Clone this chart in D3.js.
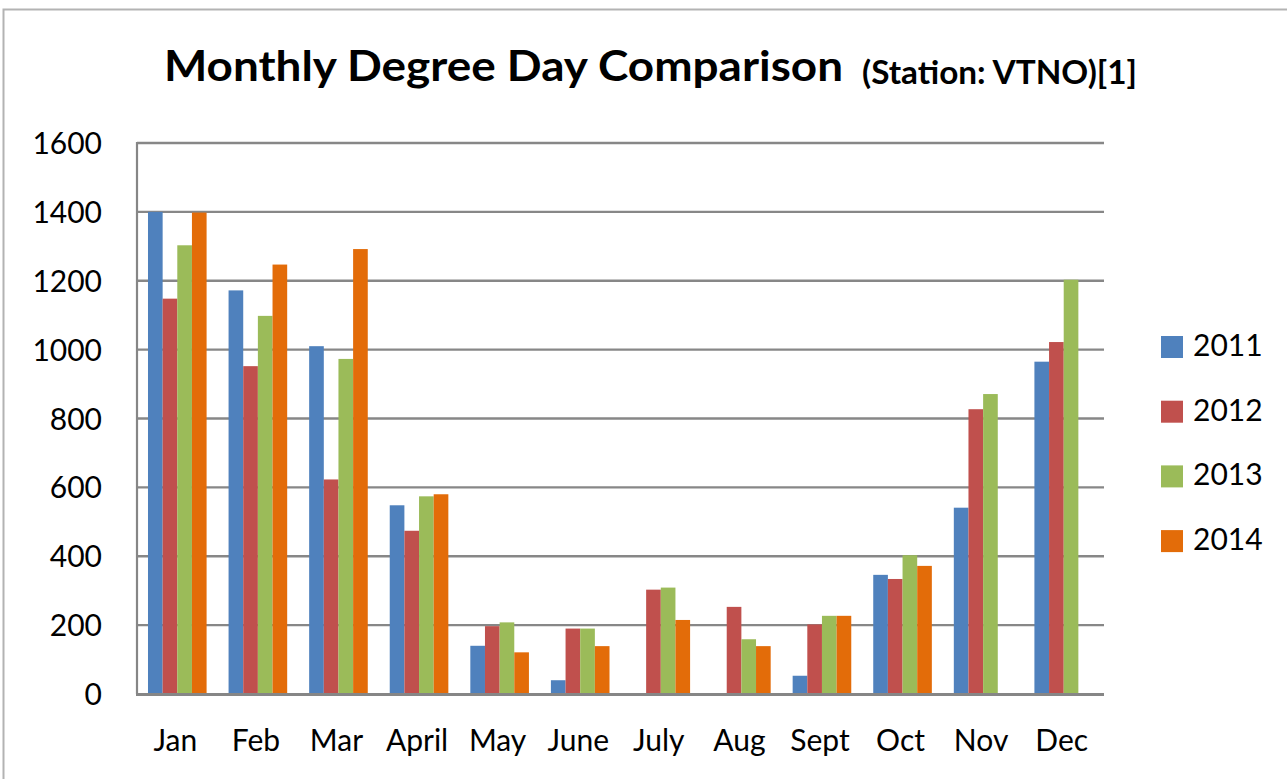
<!DOCTYPE html>
<html>
<head>
<meta charset="utf-8">
<script src="https://cdn.jsdelivr.net/npm/d3@7"></script>
<style>
  html, body { margin: 0; padding: 0; background: #fff; }
  svg { display: block; }
</style>
</head>
<body>
<svg id="chart" width="1287" height="779"></svg>
<script>
const categories = ["Jan", "Feb", "Mar", "April", "May", "June", "July", "Aug", "Sept", "Oct", "Nov", "Dec"];
const seriesNames = ["2011", "2012", "2013", "2014"];
const values2011 = [1400, 1172, 1010, 548, 140, 40, null, null, 53, 346, 541, 965];
const values2012 = [1148, 952, 623, 474, 197, 190, 303, 253, 202, 334, 827, 1022];
const values2013 = [1303, 1098, 973, 574, 208, 190, 309, 159, 227, 403, 871, 1203];
const values2014 = [1398, 1247, 1292, 580, 121, 139, 215, 139, 227, 372, null, null];
const yTicks = [0, 200, 400, 600, 800, 1000, 1200, 1400, 1600];
const colors = ["#4F81BD", "#C0504D", "#9BBB59", "#E36C09"];
const titleMain = "Monthly Degree Day Comparison";
const titleSub = "(Station: VTNO)[1]";

const seriesValues = [values2011, values2012, values2013, values2014];

const svg = d3.select("#chart");
const font = "Lato, 'Open Sans', sans-serif";

// outer chart border
svg.append("rect")
  .attr("x", 3.5).attr("y", 9.5)
  .attr("width", 1400).attr("height", 900)
  .attr("fill", "none").attr("stroke", "#b3b3b3").attr("stroke-width", 2);

const plot = { left: 137, right: 1104, top: 143, bottom: 694 };

const y = d3.scaleLinear().domain([0, 1600]).range([plot.bottom, plot.top]);
const x0 = d3.scaleBand().domain(categories).range([plot.left, plot.right]).padding(0);
const bw = x0.bandwidth();
const gap = bw * 1.5 / 5.5;
const x1 = d3.scaleBand().domain(seriesNames).range([gap / 2, bw - gap / 2]).padding(0);

// gridlines
svg.append("g").selectAll("line")
  .data(yTicks.filter(d => d > 0))
  .join("line")
  .attr("x1", plot.left).attr("x2", plot.right)
  .attr("y1", d => y(d)).attr("y2", d => y(d))
  .attr("stroke", "#878787").attr("stroke-width", 2.4);

// y labels
svg.append("g").selectAll("text")
  .data(yTicks)
  .join("text")
  .attr("x", 102).attr("y", d => y(d) + 11)
  .attr("text-anchor", "end")
  .attr("font-family", font).attr("font-size", 30)
  .attr("fill", "#000")
  .text(d => d);

// bars
const rows = categories.map((c, i) => ({ cat: c, vals: seriesNames.map((s, j) => ({ s, j, v: seriesValues[j][i] })) }));
const groups = svg.append("g").selectAll("g")
  .data(rows)
  .join("g")
  .attr("transform", d => `translate(${x0(d.cat)},0)`);
groups.selectAll("rect")
  .data(d => d.vals.filter(v => v.v != null))
  .join("rect")
  .attr("x", d => x1(d.s))
  .attr("width", x1.bandwidth())
  .attr("y", d => y(d.v))
  .attr("height", d => y(0) - y(d.v))
  .attr("fill", d => colors[d.j]);

// axes lines
svg.append("line")
  .attr("x1", plot.left).attr("x2", plot.left)
  .attr("y1", plot.top - 1).attr("y2", plot.bottom)
  .attr("stroke", "#868686").attr("stroke-width", 2.2);
svg.append("line")
  .attr("x1", plot.left - 1).attr("x2", plot.right)
  .attr("y1", plot.bottom + 0.5).attr("y2", plot.bottom + 0.5)
  .attr("stroke", "#868686").attr("stroke-width", 3);

// x labels
svg.append("g").selectAll("text")
  .data(categories)
  .join("text")
  .attr("x", d => x0(d) + bw / 2 - 2)
  .attr("y", 751)
  .attr("text-anchor", "middle")
  .attr("font-family", font).attr("font-size", 30)
  .attr("fill", "#000")
  .text(d => d);

// title
svg.append("text")
  .attr("x", 164).attr("y", 81)
  .attr("font-family", font).attr("font-size", 42).attr("font-weight", "bold")
  .attr("textLength", 679).attr("lengthAdjust", "spacingAndGlyphs")
  .attr("fill", "#000")
  .text(titleMain);
svg.append("text")
  .attr("x", 862).attr("y", 84)
  .attr("font-family", font).attr("font-size", 32).attr("font-weight", "bold")
  .attr("textLength", 275).attr("lengthAdjust", "spacingAndGlyphs")
  .attr("fill", "#000")
  .text(titleSub);

// legend
const leg = svg.append("g").selectAll("g")
  .data(seriesNames)
  .join("g")
  .attr("transform", (d, i) => `translate(1161, ${347 + i * 64.7})`);
leg.append("rect")
  .attr("x", 0).attr("y", -11)
  .attr("width", 22).attr("height", 22)
  .attr("fill", (d, i) => colors[i]);
leg.append("text")
  .attr("x", 32).attr("y", 9)
  .attr("font-family", font).attr("font-size", 30)
  .attr("fill", "#000")
  .text(d => d);
</script>
</body>
</html>
